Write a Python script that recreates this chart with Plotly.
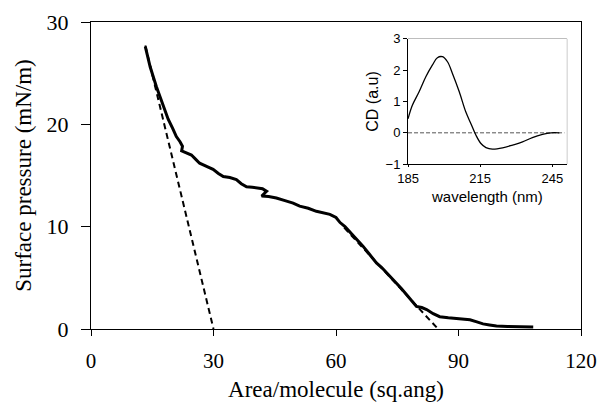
import plotly.graph_objects as go

# Main isotherm: area per molecule (sq. ang) vs surface pressure (mN/m)
area = [13.3, 14.5, 16.0, 17.5, 18.9, 20.0, 20.9, 21.8, 22.4, 22.2, 23.2, 24.6, 25.6, 26.6, 28.3,
        29.9, 31.2, 32.4, 34.0, 35.6, 36.8, 38.1, 39.5, 40.9, 42.0, 43.0, 41.8, 43.5, 45.4,
        47.5, 49.5, 51.1, 53.2, 55.2, 57.0, 58.5, 60.0, 61.0, 62.2, 63.4, 65.0, 66.6, 68.2,
        69.9, 71.2, 72.4, 73.6, 74.8, 76.0, 77.3, 78.5, 79.7, 81.0, 82.2, 83.8, 85.4,
        87.5, 89.5, 91.0, 92.8, 94.5, 96.0, 97.6, 99.3, 102.0, 105.0, 108.3]
pressure = [27.6, 25.6, 23.7, 22.0, 20.5, 19.6, 18.8, 18.3, 17.85, 17.4, 17.2, 17.0, 16.6, 16.2, 15.9,
            15.6, 15.2, 14.9, 14.8, 14.6, 14.2, 13.9, 13.85, 13.8, 13.7, 13.45, 13.0, 12.95, 12.8,
            12.55, 12.3, 12.0, 11.8, 11.5, 11.35, 11.2, 10.9, 10.4, 10.0, 9.5, 8.8, 8.1, 7.3,
            6.45, 6.0, 5.5, 5.0, 4.5, 3.95, 3.35, 2.8, 2.2, 2.1, 1.9, 1.5, 1.2,
            1.1, 1.0, 0.95, 0.9, 0.7, 0.5, 0.4, 0.3, 0.25, 0.2, 0.2]

# Extrapolation (dashed) lines
ext1_x = [13.3, 30.0]
ext1_y = [27.7, 0.0]
ext2_x = [62.0, 85.0]
ext2_y = [9.9, 0.0]

# Inset: CD spectrum
wavelength = [185, 186.8, 189.6, 192.4, 195.1, 197.2, 199.3, 201.4, 203.5, 206.3, 209.0, 211.1,
              213.2, 215.3, 217.4, 220.1, 224.3, 228.5, 232.6, 236.7, 240.9, 244.4, 247.9]
cd = [0.45, 0.88, 1.31, 1.79, 2.16, 2.40, 2.43, 2.27, 1.89, 1.31, 0.67, 0.30,
      -0.07, -0.34, -0.47, -0.52, -0.48, -0.39, -0.29, -0.15, -0.05, 0.0, 0.0]
zero_x = [185, 250]
zero_y = [0, 0]

main_ticks_x = [0, 30, 60, 90, 120]
main_ticks_y = [0, 10, 20, 30]
inset_ticks_x = [185, 215, 245]
inset_ticks_y = [-1, 0, 1, 2, 3]

fig = go.Figure()
fig.add_trace(go.Scatter(x=ext1_x, y=ext1_y, mode="lines",
                         line=dict(color="black", width=2, dash="6px,4px"), showlegend=False))
fig.add_trace(go.Scatter(x=ext2_x, y=ext2_y, mode="lines",
                         line=dict(color="black", width=2, dash="6px,4px"), showlegend=False))
fig.add_trace(go.Scatter(x=area, y=pressure, mode="lines",
                         line=dict(color="black", width=3), showlegend=False))

fig.add_trace(go.Scatter(x=zero_x, y=zero_y, mode="lines", xaxis="x2", yaxis="y2",
                         line=dict(color="#555555", width=1, dash="4px,2px"), showlegend=False))
fig.add_trace(go.Scatter(x=wavelength, y=cd, mode="lines", xaxis="x2", yaxis="y2",
                         line=dict(color="black", width=1.3, shape="spline"), showlegend=False))

serif = "Liberation Serif, Times New Roman, serif"
sans = "Liberation Sans, Arial, sans-serif"

fig.update_layout(
    width=597, height=404,
    margin=dict(l=91, r=16, t=22, b=75, autoexpand=False),
    paper_bgcolor="white", plot_bgcolor="white",
    xaxis=dict(range=[0, 120], tickvals=main_ticks_x, showgrid=False, zeroline=False,
               showline=True, linecolor="black", linewidth=1, mirror=True, automargin=False,
               ticks="outside", ticklen=6, tickcolor="black", ticklabelstandoff=7,
               ticklabeloverflow="allow",
               tickfont=dict(family=serif, size=21, color="black"),
               title=dict(text="Area/molecule (sq.ang)", font=dict(family=serif, size=23, color="black"),
                          standoff=8)),
    yaxis=dict(range=[0, 30], tickvals=main_ticks_y, showgrid=False, zeroline=False,
               showline=True, linecolor="black", linewidth=1, mirror=True, automargin=False,
               ticks="outside", ticklen=9, tickcolor="black", ticklabeloverflow="allow",
               ticklabelstandoff=8,
               tickfont=dict(family=serif, size=22, color="black"),
               title=dict(text="Surface pressure (mN/m)", font=dict(family=serif, size=23, color="black"),
                          standoff=8)),
    xaxis2=dict(domain=[0.647, 0.971], anchor="y2", range=[185, 251], tickvals=inset_ticks_x,
                showgrid=False, zeroline=False, showline=True, linecolor="black", linewidth=1,
                ticks="outside", ticklen=2, tickcolor="black", automargin=False,
                tickfont=dict(family=sans, size=13, color="black"),
                title=dict(text="wavelength (nm)", font=dict(family=sans, size=15, color="black"),
                           standoff=6)),
    yaxis2=dict(domain=[0.537, 0.945], anchor="x2", range=[-1, 3], tickvals=inset_ticks_y,
                showgrid=False, zeroline=False, showline=True, linecolor="black", linewidth=1,
                ticks="outside", ticklen=4, tickcolor="black", automargin=False,
                tickfont=dict(family=sans, size=13, color="black"),
                title=dict(text="CD (a.u)", font=dict(family=sans, size=16, color="black"),
                           standoff=2)),
    shapes=[dict(type="rect", xref="x2 domain", yref="y2 domain", x0=0, x1=1, y0=0, y1=1,
                 line=dict(color="#888888", width=1), layer="below")],
)

fig.write_html("out.html", config={"displayModeBar": False},
               post_script="document.body.style.margin='0';document.body.style.overflow='hidden';")
